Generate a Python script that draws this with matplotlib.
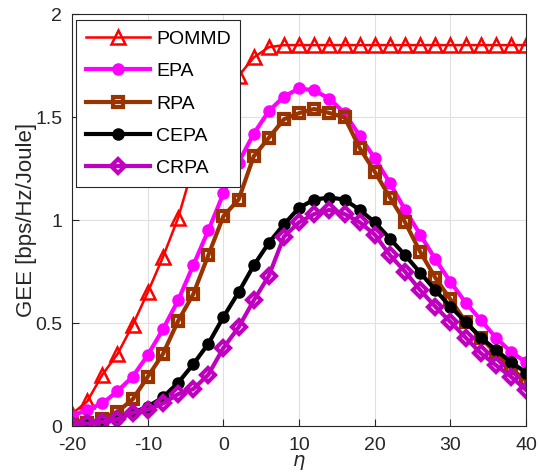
import numpy as np
import matplotlib.pyplot as plt

plt.rcParams['font.family'] = ['Liberation Sans', 'DejaVu Sans']
plt.rcParams['axes.unicode_minus'] = False

eta = np.arange(-20, 41, 2)

pommd = [0.06, 0.12, 0.25, 0.35, 0.49, 0.65, 0.82, 1.01, 1.26, 1.42, 1.57, 1.70, 1.79, 1.84,
         1.85, 1.85, 1.85, 1.85, 1.85, 1.85, 1.85, 1.85, 1.85, 1.85, 1.85, 1.85, 1.85, 1.85,
         1.85, 1.85, 1.85]
epa = [0.05, 0.08, 0.11, 0.17, 0.24, 0.345, 0.47, 0.61, 0.78, 0.95, 1.13, 1.28, 1.42, 1.53,
       1.60, 1.64, 1.63, 1.59, 1.52, 1.41, 1.30, 1.18, 1.05, 0.93, 0.81, 0.70, 0.60, 0.515,
       0.43, 0.36, 0.31]
rpa = [0.005, 0.013, 0.037, 0.07, 0.13, 0.24, 0.35, 0.51, 0.64, 0.83, 1.02, 1.10, 1.31, 1.40,
       1.49, 1.52, 1.54, 1.52, 1.50, 1.35, 1.235, 1.11, 0.99, 0.846, 0.72, 0.615, 0.506, 0.43,
       0.354, 0.28, 0.22]
cepa = [0.005, 0.01, 0.02, 0.035, 0.065, 0.094, 0.14, 0.21, 0.30, 0.40, 0.53, 0.65, 0.78, 0.89,
        0.98, 1.06, 1.10, 1.11, 1.10, 1.05, 0.99, 0.91, 0.83, 0.745, 0.66, 0.58, 0.506, 0.43,
        0.37, 0.31, 0.26]
crpa = [0.005, 0.013, 0.02, 0.034, 0.065, 0.08, 0.11, 0.155, 0.18, 0.25, 0.38, 0.48, 0.61, 0.73,
        0.92, 0.99, 1.03, 1.05, 1.03, 0.99, 0.93, 0.83, 0.75, 0.66, 0.58, 0.506, 0.43, 0.354,
        0.296, 0.24, 0.175]

fig = plt.figure(figsize=(5.38, 4.74), dpi=100)
ax = fig.add_axes([0.134, 0.101, 0.844, 0.869])

ax.plot(eta, pommd, color='#FF0000', lw=1.8, marker='^', ms=10, mfc='none', mew=1.8, label='POMMD')
ax.plot(eta, epa, color='#FF00FF', lw=3, marker='o', ms=8, label='EPA')
ax.plot(eta, rpa, color='#993300', lw=3, marker='s', ms=7, mfc='none', mew=3, label='RPA')
ax.plot(eta, cepa, color='black', lw=3, marker='o', ms=8, label='CEPA')
ax.plot(eta, crpa, color='#BF00BF', lw=3, marker='D', ms=7.5, mfc='none', mew=3, label='CRPA')

ax.set_xlim(-20, 40)
ax.set_ylim(0, 2)
ax.set_xticks(np.arange(-20, 41, 10))
ax.set_yticks([0, 0.5, 1, 1.5, 2])
ax.set_yticklabels(['0', '0.5', '1', '1.5', '2'])
ax.tick_params(labelsize=14, direction='in', length=5, color='#262626', labelcolor='#262626')
ax.tick_params(axis='x', pad=8)
ax.tick_params(axis='y', pad=7)
ax.grid(True, color='#E0E0E0', lw=0.8)
ax.set_axisbelow(True)
for s in ax.spines.values():
    s.set_color('#262626')

ax.set_xlabel(r'$\eta$', fontsize=14, labelpad=-1, color='#262626')
ax.set_ylabel('GEE [bps/Hz/Joule]', fontsize=16, labelpad=-1, color='#262626')

leg = ax.legend(loc='upper left', fontsize=14, frameon=True, fancybox=False, framealpha=1,
                edgecolor='#262626', handlelength=3.3, handletextpad=0.3, borderpad=0.5,
                labelspacing=0.76, borderaxespad=0, bbox_to_anchor=(0.009, 0.985))
leg.get_frame().set_linewidth(0.8)

plt.savefig('out.png')
